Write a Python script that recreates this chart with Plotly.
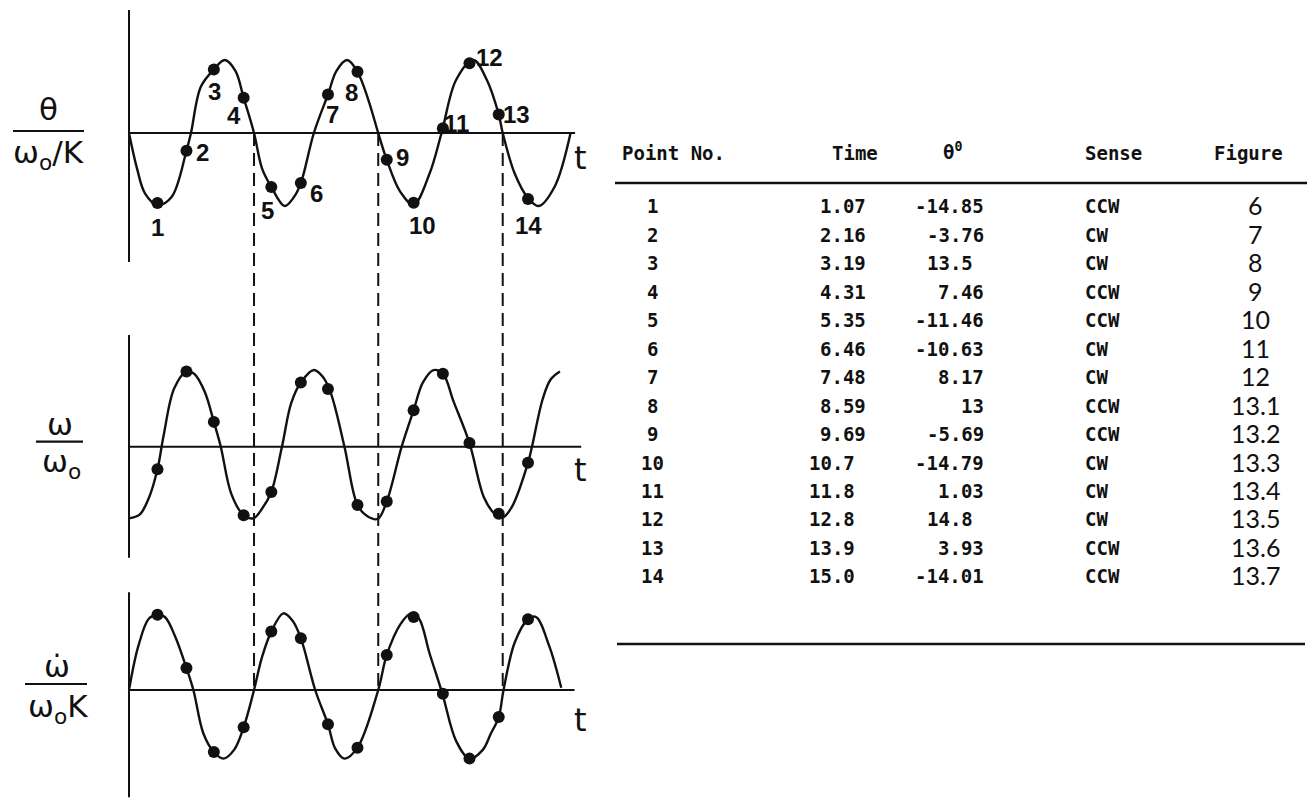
import plotly.graph_objects as go

W, H = 1309, 801

# ---------------- data ----------------
# theta curve (degrees) versus time, knots along the traced curve
theta_curve_t = [0.0, 0.3, 0.6, 1.07, 1.6, 2.16, 2.33, 2.7, 3.19, 3.6, 4.0, 4.31, 4.7,
                 5.0, 5.35, 5.85, 6.2, 6.46, 6.95, 7.48, 7.8, 8.2, 8.59, 9.0, 9.37,
                 9.69, 10.2, 10.7, 11.3, 11.75, 12.3, 12.95, 13.45, 13.9, 14.05, 14.5,
                 15.0, 15.4, 16.0, 16.6]
theta_curve = [0.0, -7.5, -12.8, -15.3, -13.6, -3.76, 0.0, 9.8, 13.5, 15.5, 13.2, 7.46, 0.0,
               -7.5, -11.46, -15.5, -13.6, -10.63, 0.0, 8.17, 13.2, 15.5, 13.0, 7.0, 0.0,
               -5.69, -12.5, -15.2, -8.6, 0.0, 11.3, 15.5, 11.3, 3.93, 0.0, -8.6,
               -13.8, -15.5, -11.4, 0.0]

# omega / omega0 curve
omega_curve_t = [0.0, 0.4, 0.75, 1.07, 1.3, 1.7, 2.16, 2.45, 2.85, 3.19, 3.45, 3.85, 4.31,
                 4.68, 5.0, 5.35, 5.75, 6.1, 6.46, 6.95, 7.3, 7.6, 8.1, 8.59, 8.95, 9.35,
                 9.69, 10.25, 10.7, 11.05, 11.45, 11.8, 12.2, 12.8, 13.35, 13.75, 14.05,
                 14.4, 15.0, 15.15, 15.55, 15.85, 16.2]
omega_curve = [-0.98, -0.93, -0.7, -0.31, 0.15, 0.8, 1.03, 1.0, 0.75, 0.34, 0.0, -0.65, -0.94,
               -0.98, -0.85, -0.62, 0.0, 0.6, 0.88, 1.05, 0.95, 0.72, 0.0, -0.8, -0.95, -0.99,
               -0.75, 0.0, 0.5, 0.88, 1.05, 1.0, 0.62, 0.05, -0.7, -0.92, -0.97,
               -0.82, -0.22, 0.0, 0.65, 0.92, 1.03]

# omega-dot / (omega0 K) curve
omegadot_curve_t = [0.0, 0.35, 0.75, 1.07, 1.35, 1.75, 2.16, 2.42, 2.8, 3.19, 3.55, 3.95,
                    4.31, 4.7, 5.0, 5.35, 5.8, 6.15, 6.46, 7.0, 7.48, 7.75, 8.1, 8.59,
                    9.37, 9.69, 10.2, 10.6, 10.9, 11.3, 11.78, 12.3, 12.8, 13.3, 13.6,
                    13.9, 14.08, 14.5, 15.0, 15.3, 15.8, 16.25]
omegadot_curve = [0.0, 0.6, 0.98, 1.03, 1.0, 0.72, 0.30, 0.0, -0.6, -0.85, -0.94, -0.82,
                  -0.51, 0.0, 0.45, 0.8, 1.05, 0.95, 0.71, 0.0, -0.47, -0.8, -0.94, -0.79,
                  0.0, 0.48, 0.9, 1.05, 0.98, 0.5, -0.05, -0.7, -0.94, -0.82, -0.6,
                  -0.37, 0.0, 0.65, 0.97, 1.0, 0.6, 0.03]

# tabulated points
point_no = ["1", "2", "3", "4", "5", "6", "7", "8", "9", "10", "11", "12", "13", "14"]
time_labels = ["1.07", "2.16", "3.19", "4.31", "5.35", "6.46", "7.48", "8.59", "9.69",
               "10.7", "11.8", "12.8", "13.9", "15.0"]
theta_labels = ["-14.85", "-3.76", "13.5", "7.46", "-11.46", "-10.63", "8.17", "13",
                "-5.69", "-14.79", "1.03", "14.8", "3.93", "-14.01"]
sense = ["CCW", "CW", "CW", "CCW", "CCW", "CW", "CW", "CCW", "CCW", "CW", "CW", "CW",
         "CCW", "CCW"]
figure_no = ["6", "7", "8", "9", "10", "11", "12", "13.1", "13.2", "13.3", "13.4",
             "13.5", "13.6", "13.7"]
time_vals = [float(s) for s in time_labels]
theta_vals = [float(s) for s in theta_labels]

# omega and omega-dot at the same instants
omega_pts = [-0.31, 1.03, 0.34, -0.94, -0.62, 0.88, 0.79, -0.8, -0.75, 0.5, 1.0, 0.05,
             -0.92, -0.22]
omegadot_pts = [1.03, 0.30, -0.85, -0.51, 0.8, 0.71, -0.47, -0.79, 0.48, 1.0, -0.05,
                -0.94, -0.37, 0.97]

# instants where theta falls through zero
crossings = [4.7, 9.37, 14.05]

# ---------------- geometry ----------------
T0_PX, PX_PER_T = 129.0, 26.6
# (pixel row of zero line, pixels per unit)
THETA_AX = (133.0, 4.71)
OMEGA_AX = (446.7, 73.0)
OMEGADOT_AX = (690.0, 73.0)


def yrange(ax):
    zero_px, ppu = ax
    return [(zero_px - H) / ppu, zero_px / ppu]


def to_paper(value, ax):
    zero_px, ppu = ax
    return (H - (zero_px - value * ppu)) / H


def px(xp, yp):
    return xp / W, (H - yp) / H


BLACK = "#111111"
curve_line = dict(color=BLACK, width=2.4, shape="spline", smoothing=1.0)
dot = dict(color=BLACK, size=12)

fig = go.Figure()

for t, v, yref in [(theta_curve_t, theta_curve, "y"),
                   (omega_curve_t, omega_curve, "y2"),
                   (omegadot_curve_t, omegadot_curve, "y3")]:
    fig.add_trace(go.Scatter(x=t, y=v, mode="lines", line=curve_line,
                             xaxis="x", yaxis=yref, hoverinfo="skip"))

for v, yref in [(theta_vals, "y"), (omega_pts, "y2"), (omegadot_pts, "y3")]:
    fig.add_trace(go.Scatter(x=time_vals, y=v, mode="markers", marker=dot,
                             xaxis="x", yaxis=yref, hoverinfo="skip"))

shapes = []
# axes of each panel: (yref, t_end, y_top, y_bottom)
for yref, t_end, ytop, ybot in [("y", 16.77, 26.1, -27.4),
                                ("y2", 17.0, 1.53, -1.52),
                                ("y3", 16.75, 1.34, -1.47)]:
    shapes.append(dict(type="line", xref="x", yref=yref, x0=0, x1=t_end, y0=0, y1=0,
                       line=dict(color=BLACK, width=2)))
    shapes.append(dict(type="line", xref="x", yref=yref, x0=0, x1=0, y0=ytop, y1=ybot,
                       line=dict(color=BLACK, width=2)))

# dashed verticals linking the panels
for c in crossings:
    shapes.append(dict(type="line", xref="x", yref="paper", x0=c, x1=c,
                       y0=to_paper(0, THETA_AX), y1=to_paper(0, OMEGADOT_AX),
                       line=dict(color=BLACK, width=2, dash="13px,7px")))

# table rules
for y_rule, xa, xb in [(183, 615, 1307), (644, 617, 1305)]:
    x0, y0 = px(xa, y_rule)
    x1, _ = px(xb, y_rule)
    shapes.append(dict(type="line", xref="paper", yref="paper", x0=x0, x1=x1, y0=y0, y1=y0,
                       line=dict(color=BLACK, width=2.6)))

# fraction bars of the axis titles
for yb, xa, xb in [(131, 13, 84), (441.7, 36, 83), (684, 25, 87)]:
    x0, y0 = px(xa, yb)
    x1, _ = px(xb, yb)
    shapes.append(dict(type="line", xref="paper", yref="paper", x0=x0, x1=x1, y0=y0, y1=y0,
                       line=dict(color=BLACK, width=2.2)))

ann = []
label_font = dict(family="Liberation Sans", size=24, color=BLACK, weight="bold")
# label offsets in pixels (right, down) from each theta point
label_offsets = [(0, 25), (16, 2), (1, 22), (-10, 18), (-4, 24), (16, 10), (5, 20),
                 (-6, 21), (16, -2), (9, 23), (14, -5), (20, -6), (18, 0), (0, 27)]
for n, t, th, (dx, dy) in zip(point_no, time_vals, theta_vals, label_offsets):
    ann.append(dict(x=t, y=th, xref="x", yref="y", text=n, showarrow=False,
                    xshift=dx, yshift=-dy, font=label_font))

hand_font = dict(family="DejaVu Sans", size=31, color=BLACK)


def paper_text(xp, yp, text, font, xanchor="center"):
    x, y = px(xp, yp)
    ann.append(dict(x=x, y=y, xref="paper", yref="paper", text=text, showarrow=False,
                    xanchor=xanchor, yanchor="middle", font=font))


paper_text(49, 109, "θ", hand_font)
paper_text(49, 154, "ω<sub>o</sub>/K", hand_font)
paper_text(60, 424, "ω", hand_font)
paper_text(61, 463, "ω<sub>o</sub>", hand_font)
paper_text(57, 666, "ω\u0307", hand_font)
paper_text(58, 708, "ω<sub>o</sub>K", hand_font)
for ty in (158, 470, 720):
    paper_text(580, ty, "t", dict(family="DejaVu Sans", size=32, color=BLACK))

# ---------------- table ----------------
mono = dict(family="DejaVu Sans Mono", size=19, color=BLACK, weight="bold")
fig_font = dict(family="Lato", size=25, color=BLACK, weight=400)
CW_PX = 11.45
ROW0, ROW_STEP = 206.5, 28.45

paper_text(620, 153, "Point No.", mono, "left")
paper_text(830, 153, "Time", mono, "left")
paper_text(952, 151, "θ<sup>0</sup>", mono, "center")
paper_text(1083, 153, "Sense", mono, "left")
paper_text(1212, 153, "Figure", mono, "left")

for i in range(len(point_no)):
    yy = ROW0 + i * ROW_STEP
    paper_text(652, yy, point_no[i], mono, "center")
    int_len = len(time_labels[i].split(".")[0])
    paper_text(818 - (int_len - 1) * CW_PX, yy, time_labels[i], mono, "left")
    dec = theta_labels[i].split(".")
    shift = CW_PX if len(dec) == 2 and len(dec[1]) == 1 else 0
    paper_text(986 - shift, yy, theta_labels[i], mono, "right")
    paper_text(1083, yy, sense[i], mono, "left")
    paper_text(1255, yy - 1, figure_no[i], fig_font, "center")

fig.update_layout(
    width=W, height=H, autosize=False,
    margin=dict(l=0, r=0, t=0, b=0, pad=0),
    paper_bgcolor="white", plot_bgcolor="white",
    showlegend=False,
    xaxis=dict(domain=[0, 1], range=[-T0_PX / PX_PER_T, (W - T0_PX) / PX_PER_T],
               visible=False, fixedrange=True),
    yaxis=dict(domain=[0, 1], range=yrange(THETA_AX), visible=False, fixedrange=True),
    yaxis2=dict(domain=[0, 1], range=yrange(OMEGA_AX), visible=False, fixedrange=True,
                overlaying="y"),
    yaxis3=dict(domain=[0, 1], range=yrange(OMEGADOT_AX), visible=False, fixedrange=True,
                overlaying="y"),
    shapes=shapes,
    annotations=ann,
)

fig.write_html("out.html", config={"displayModeBar": False})
